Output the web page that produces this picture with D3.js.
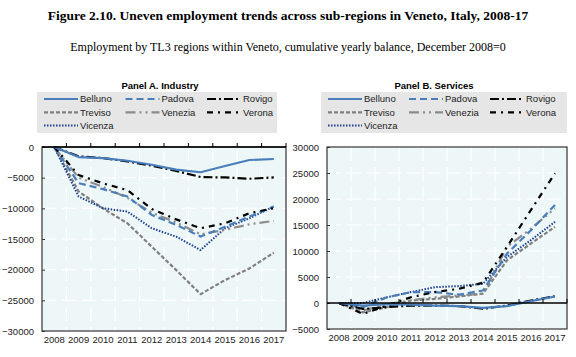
<!DOCTYPE html>
<html><head><meta charset="utf-8">
<script src="https://cdn.jsdelivr.net/npm/d3@7"></script>
<style>
body{margin:0;background:#fff;}
svg{display:block;}
.nar{font-family:"Liberation Sans Narrow","Arial Narrow","Liberation Sans",Arial,sans-serif;}
</style></head>
<body><svg id="c" width="576" height="357"></svg>
<script>
const years = [2008,2009,2010,2011,2012,2013,2014,2015,2016,2017];
const regions = ["Belluno","Padova","Rovigo","Treviso","Venezia","Verona","Vicenza"];
// Panel A. Industry
const indBelluno = [0,-1640,-1800,-2240,-2900,-3700,-4120,-3100,-2120,-1960];
const indPadova  = [0,-5900,-6870,-8070,-11070,-12700,-14600,-13000,-11350,-9700];
const indRovigo  = [0,-1530,-1800,-2350,-3050,-3900,-4900,-4960,-5180,-4960];
const indTreviso = [0,-7250,-10000,-12440,-16250,-20070,-24000,-21700,-19800,-17240];
const indVenezia = [0,-5000,-6500,-8300,-10700,-12300,-14240,-13500,-12600,-12050];
const indVerona  = [0,-4575,-5930,-7030,-10100,-11800,-13250,-12440,-10800,-9980];
const indVicenza = [0,-8070,-9980,-10530,-13250,-14620,-16800,-13250,-11620,-9700];
// Panel B. Services
const serBelluno = [0,-500,-200,-300,-500,-600,-950,-600,350,1250];
const serPadova  = [0,-800,1100,2100,2100,1600,2400,9500,14000,18850];
const serRovigo  = [0,-1150,-800,-500,-500,-600,-1100,-500,480,1300];
const serTreviso = [0,-1800,-800,480,800,1250,1800,8200,11450,14650];
const serVenezia = [0,-1450,-200,500,1100,1450,1800,10800,14300,18200];
const serVerona  = [0,-2100,-500,1120,2100,2730,3900,10800,17900,24950];
const serVicenza = [0,0,1100,2100,3050,3250,3700,8850,12100,15600];
const ticksA = [0,-5000,-10000,-15000,-20000,-25000,-30000];
const ticksB = [30000,25000,20000,15000,10000,5000,0,-5000];

const industry = {Belluno:indBelluno,Padova:indPadova,Rovigo:indRovigo,Treviso:indTreviso,Venezia:indVenezia,Verona:indVerona,Vicenza:indVicenza};
const services = {Belluno:serBelluno,Padova:serPadova,Rovigo:serRovigo,Treviso:serTreviso,Venezia:serVenezia,Verona:serVerona,Vicenza:serVicenza};

const styles = {
  Belluno:{c:"#4a7ebb",d:null,w:2.2},
  Padova:{c:"#4a7ebb",d:"7,4",w:2.2},
  Rovigo:{c:"#000",d:"9,3,2,3",w:2.2},
  Treviso:{c:"#7f7f7f",d:"4,2",w:2.2},
  Venezia:{c:"#8c8c8c",d:"10,4,2,4,2,4",w:2.2},
  Verona:{c:"#000",d:"6,5,2,5",w:2.2},
  Vicenza:{c:"#1f3f8f",d:"1.5,1.5",w:2}
};
const drawOrder = ["Treviso","Vicenza","Venezia","Padova","Verona","Rovigo","Belluno"];

const svg = d3.select("#c");

svg.append("text").attr("x",288).attr("y",20).attr("text-anchor","middle")
  .attr("font-family","'Liberation Serif','Times New Roman',serif").attr("font-weight","bold")
  .attr("font-size",13.5).text("Figure 2.10. Uneven employment trends across sub-regions in Veneto, Italy, 2008-17");
svg.append("text").attr("x",288).attr("y",51).attr("text-anchor","middle")
  .attr("font-family","'Liberation Serif','Times New Roman',serif")
  .attr("font-size",12).text("Employment by TL3 regions within Veneto, cumulative yearly balance, December 2008=0");

function panel(cfg){
  const g = svg.append("g");
  const x = d3.scaleBand().domain(years).range([cfg.x0,cfg.x1]);
  const xp = d => x(d)+x.bandwidth()/2;
  const y = d3.scaleLinear().domain(cfg.dom).range([cfg.y1,cfg.y0]);

  g.append("text").attr("class","nar").attr("x",cfg.titleX).attr("y",89).attr("text-anchor","middle")
    .attr("font-weight","bold").attr("font-size",9.5).text(cfg.title);

  // legend
  const lg = g.append("g");
  lg.append("rect").attr("x",cfg.lx).attr("y",92).attr("width",cfg.lw).attr("height",41).attr("fill","#e6e6e6");
  regions.forEach((r,i)=>{
    const col=i%3,row=Math.floor(i/3);
    const sx=cfg.lx+7+col*cfg.colW, sy=99+row*13.3;
    const s=styles[r];
    lg.append("line").attr("x1",sx).attr("x2",sx+34).attr("y1",sy).attr("y2",sy)
      .attr("stroke",s.c).attr("stroke-width",s.w).attr("stroke-dasharray",s.d);
    lg.append("text").attr("class","nar").attr("x",sx+36).attr("y",sy+3.3).attr("font-size",9.5).attr("fill","#222").text(r);
  });

  // plot bg
  g.append("rect").attr("x",cfg.x0).attr("y",cfg.y0).attr("width",cfg.x1-cfg.x0).attr("height",cfg.y1-cfg.y0).attr("fill","#eef7f7");
  // grid
  g.selectAll(".gy").data(cfg.ticks).join("line").attr("x1",cfg.x0).attr("x2",cfg.x1)
    .attr("y1",d=>y(d)).attr("y2",d=>y(d)).attr("stroke","#fff").attr("stroke-width",1.2).attr("stroke-dasharray","14,6");
  g.selectAll(".gx").data(years.slice(1)).join("line").attr("x1",d=>x(d)).attr("x2",d=>x(d))
    .attr("y1",cfg.y0).attr("y2",cfg.y1).attr("stroke","#fff").attr("stroke-width",1.2).attr("stroke-dasharray","14,6");

  // y axis
  const ya = d3.axisLeft(y).tickValues(cfg.ticks).tickSize(-3).tickPadding(8).tickFormat(d3.format("d"));
  const yg = g.append("g").attr("transform",`translate(${cfg.x0},0)`).call(ya);
  yg.select(".domain").remove();
  yg.selectAll("text").attr("class","nar").attr("font-size",9.5).attr("fill","#222");
  yg.selectAll("line").attr("stroke","#333");

  // x labels
  const xa = d3.axisBottom(x).tickSize(0).tickPadding(5);
  const xg = g.append("g").attr("transform",`translate(0,${cfg.y1})`).call(xa);
  xg.select(".domain").remove();
  xg.selectAll("text").attr("class","nar").attr("font-size",9.5).attr("fill","#222");

  // lines
  const line = d3.line().x((d,i)=>xp(years[i])).y(d=>y(d));
  drawOrder.forEach(r=>{
    const s=styles[r];
    g.append("path").datum(cfg.data[r]).attr("d",line).attr("fill","none")
      .attr("stroke",s.c).attr("stroke-width",s.w).attr("stroke-dasharray",s.d).attr("stroke-linejoin","round");
  });

  // frame
  g.append("rect").attr("x",cfg.x0).attr("y",cfg.y0).attr("width",cfg.x1-cfg.x0).attr("height",cfg.y1-cfg.y0)
    .attr("fill","none").attr("stroke","#333").attr("stroke-width",1.2);
  // zero line with ticks
  g.append("line").attr("x1",cfg.x0).attr("x2",cfg.x1).attr("y1",y(0)).attr("y2",y(0)).attr("stroke","#000").attr("stroke-width",1.3);
  g.selectAll(".zt").data(years.slice(1).concat(["end"])).join("line")
    .attr("x1",d=>d==="end"?cfg.x1:x(d)).attr("x2",d=>d==="end"?cfg.x1:x(d))
    .attr("y1",y(0)).attr("y2",y(0)-4).attr("stroke","#000").attr("stroke-width",1);
}

panel({title:"Panel A. Industry",titleX:160,x0:42,x1:286,y0:147,y1:331,dom:[-30000,0],ticks:ticksA,data:industry,
  lx:37,lw:240,colW:81.5});
panel({title:"Panel B. Services",titleX:434,x0:327,x1:567,y0:147,y1:329,dom:[-5000,30000],ticks:ticksB,data:services,
  lx:321,lw:246,colW:81});
</script></body></html>
